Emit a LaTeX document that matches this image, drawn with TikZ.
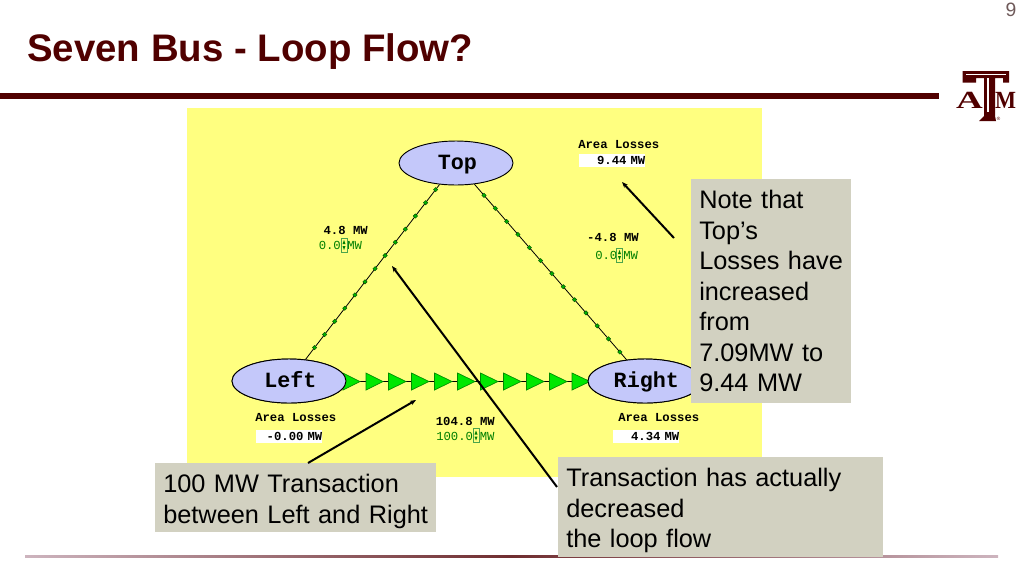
\documentclass[tikz,border=0pt]{standalone}
\usepackage{fontspec}
\setmainfont{Liberation Sans}
\setmonofont{Liberation Mono}
\newfontfamily\logofont{Liberation Serif}
\usetikzlibrary{arrows.meta,shapes.geometric}
\definecolor{maroon}{HTML}{500000}
\definecolor{pagegray}{HTML}{6F5A5A}
\definecolor{areayellow}{HTML}{FFFF80}
\definecolor{busblue}{HTML}{C4C8FA}
\definecolor{notegray}{HTML}{D2D1C1}
\definecolor{flowgreen}{HTML}{00E800}
\definecolor{valuegreen}{HTML}{007F00}
\definecolor{rulepink}{HTML}{CDB4BE}
\tikzset{
 busnode/.style={ellipse,draw=black,fill=busblue,line width=0.7pt,minimum width=85.5pt,minimum height=33pt,inner sep=0pt,text height=11pt,text depth=1.5pt,execute at begin node=\hspace*{2pt},font=\fontsize{16.3}{18}\ttfamily\bfseries},
 arealabel/.style={inner sep=0pt,font=\fontsize{9.2}{11}\ttfamily\bfseries},
 areabox/.style={fill=white,inner sep=0pt,minimum width=50pt,minimum height=9.5pt,text width=50pt,align=right,font=\fontsize{9.2}{11}\ttfamily\bfseries},
 mwlabel/.style={inner sep=0pt,font=\fontsize{9.2}{11}\ttfamily\bfseries},
 greenlabel/.style={inner sep=0pt,text=valuegreen,font=\fontsize{9.2}{11}\ttfamily},
 spinbox/.style={draw=valuegreen!70,line width=0.4pt},
 spintip/.style={fill=valuegreen},
 linemark/.style={diamond,draw=black!70!green,fill=green!70!black,line width=0.3pt,inner sep=0pt,minimum size=3.4pt},
 flowtri/.style={draw=black!45!green,fill=flowgreen,line width=0.5pt},
 notebox/.style={fill=notegray,inner xsep=6pt,inner ysep=0pt,align=left,font=\fontsize{19}{22.9}\selectfont},
 notearrow/.style={draw=black,line width=1.5pt,-{Stealth[length=4.5pt,width=3.5pt]}},
}
\begin{document}
\begin{tikzpicture}[x=0.75pt,y=-0.75pt]
 \useasboundingbox (0,0) rectangle (1024,576);
 % header
 \node[anchor=west,inner sep=0pt,text=maroon,font=\fontsize{28.8}{30}\selectfont\bfseries] (title) at (27,52) {Seven Bus - Loop Flow?};
 \node[inner sep=0pt,text=pagegray,font=\fontsize{14.5}{16}\selectfont] (pagenum) at (1011,10) {9};
 \fill[maroon] (0,93) rectangle (939,99);
 % logo
 \node[inner sep=0pt,text=maroon,xscale=1.5,transform shape,font=\fontsize{18.5}{20}\logofont\bfseries] (logoA) at (969.5,100.5) {A};
 \node[inner sep=0pt,text=maroon,xscale=0.9,transform shape,font=\fontsize{18.5}{20}\logofont\bfseries] (logoM) at (1005.5,100.5) {M};
 \fill[maroon] (962.5,71)--(1009,71)--(1009,82.5)--(1003,82.5)--(1003,78)--(995,78)--(995,116)--(996,121)--(979,121)--(984,116)--(984,78)--(976,78)--(976,82.5)--(962.5,82.5)--cycle;
 \fill[white] (966,73.5)--(1006,73.5)--(1006,75)--(966,75)--cycle;
 \fill[white] (987,78)--(988.5,78)--(988.5,112)--(987,112)--cycle;
 \node[inner sep=0pt,text=maroon,font=\fontsize{3.5}{4}\selectfont] (logoR) at (998.5,118.5) {®};
 % footer rule
 \shade[left color=rulepink,right color=rulepink,middle color=maroon!75!rulepink] (25,555.5) rectangle (998,557.5);
 % one-line
 \fill[areayellow] (187,108) rectangle (762,477);
 \node[busnode] (top) at (456,163) {Top};
 \node[busnode] (left) at (289,381) {Left};
 \node[busnode] (right) at (645,381) {Right};
 \draw[line width=0.6pt] (top)--(left);
 \draw[line width=0.6pt] (top)--(right);
 \draw[line width=0.6pt] (left)--(right);
 \path (top)--(left)
  node[linemark,pos=0.029]{} node[linemark,pos=0.104]{} node[linemark,pos=0.180]{} node[linemark,pos=0.255]{}
  node[linemark,pos=0.330]{} node[linemark,pos=0.406]{} node[linemark,pos=0.481]{} node[linemark,pos=0.556]{}
  node[linemark,pos=0.631]{} node[linemark,pos=0.707]{} node[linemark,pos=0.782]{} node[linemark,pos=0.857]{}
  node[linemark,pos=0.932]{};
 \path (top)--(right)
  node[linemark,pos=0.063]{} node[linemark,pos=0.137]{} node[linemark,pos=0.212]{} node[linemark,pos=0.286]{}
  node[linemark,pos=0.361]{} node[linemark,pos=0.435]{} node[linemark,pos=0.509]{} node[linemark,pos=0.584]{}
  node[linemark,pos=0.658]{} node[linemark,pos=0.733]{} node[linemark,pos=0.807]{} node[linemark,pos=0.881]{}
  node[linemark,pos=0.956]{};
 \draw[flowtri](343,373)--(360,381.5)--(343,390)--cycle;
 \draw[flowtri](366,373)--(383,381.5)--(366,390)--cycle;
 \draw[flowtri](388.5,373)--(406,381.5)--(388.5,390)--cycle;
 \draw[flowtri](411.5,373)--(429,381.5)--(411.5,390)--cycle;
 \draw[flowtri](434.5,373)--(452,381.5)--(434.5,390)--cycle;
 \draw[flowtri](457.5,373)--(475,381.5)--(457.5,390)--cycle;
 \draw[flowtri](480.5,373)--(498,381.5)--(480.5,390)--cycle;
 \draw[flowtri](503.5,373)--(521,381.5)--(503.5,390)--cycle;
 \draw[flowtri](526.5,373)--(544,381.5)--(526.5,390)--cycle;
 \draw[flowtri](549.5,373)--(567,381.5)--(549.5,390)--cycle;
 \draw[flowtri](572,373)--(590,381.5)--(572,390)--cycle;
 \node[busnode] at (left) {Left};
 \node[busnode] at (right) {Right};
 % area losses
 \node[arealabel,anchor=west] (lossTop) at (578,145) {Area Losses};
 \node[areabox] (lossTopVal) at (612,160.5) {9.44 MW};
 \node[arealabel,anchor=west] (lossLeft) at (255,417.5) {Area Losses};
 \node[areabox] (lossLeftVal) at (289,436.5) {-0.00 MW};
 \node[arealabel,anchor=west] (lossRight) at (618,417.5) {Area Losses};
 \node[areabox] (lossRightVal) at (646,436.5) {4.34 MW};
 % flows
 \node[mwlabel,anchor=east] (mwTL) at (368,230) {4.8 MW};
 \node[greenlabel,anchor=west] (setTL) at (318.5,245) {0.0};
 \node[greenlabel,anchor=west] (unitTL) at (347,245) {MW};
 \draw[spinbox] (341,238) rectangle (347,252);
 \fill[spintip] (342.5,244)--(345.5,244)--(344,240)--cycle;
 \fill[spintip] (342.5,246)--(345.5,246)--(344,250)--cycle;
 \node[mwlabel,anchor=east] (mwTR) at (639,237) {-4.8 MW};
 \node[greenlabel,anchor=west] (setTR) at (595,255) {0.0};
 \node[greenlabel,anchor=west] (unitTR) at (623,255) {MW};
 \draw[spinbox] (616.5,248) rectangle (622.5,262);
 \fill[spintip] (618,254)--(621,254)--(619.5,250)--cycle;
 \fill[spintip] (618,256)--(621,256)--(619.5,260)--cycle;
 \node[mwlabel,anchor=east] (mwLR) at (495,421) {104.8 MW};
 \node[greenlabel,anchor=west] (setLR) at (436,436) {100.0};
 \node[greenlabel,anchor=west] (unitLR) at (479.5,436) {MW};
 \draw[spinbox] (473,428.5) rectangle (479,442.5);
 \fill[spintip] (474.5,434.5)--(477.5,434.5)--(476,430.5)--cycle;
 \fill[spintip] (474.5,436.5)--(477.5,436.5)--(476,440.5)--cycle;
 % notes
 \node[notebox,anchor=north west,text width=108pt,minimum height=168pt] (noteTop) at (691,179) {Note that\\Top’s\\Losses have\\increased\\from\\7.09MW to\\9.44 MW};
 \node[notebox,anchor=north west,text width=198.75pt,minimum height=51.75pt] (noteLeft) at (155,463) {\rule{0pt}{19pt}100 MW Transaction\\between Left and Right};
 \node[notebox,anchor=north west,text width=231.75pt,minimum height=75pt] (noteRight) at (558,457) {\rule{0pt}{19pt}Transaction has actually\\decreased\\the loop flow};
 \coordinate (tipTop) at (622,182);
 \coordinate (tailTop) at (674,238);
 \coordinate (tipLeft) at (416,400);
 \coordinate (tailLeft) at (308,463);
 \coordinate (tipRight) at (392,266);
 \coordinate (tailRight) at (557,487);
 \draw[notearrow] (tailTop)--(tipTop);
 \draw[notearrow] (tailLeft)--(tipLeft);
 \draw[notearrow] (tailRight)--(tipRight);
\end{tikzpicture}
\end{document}
